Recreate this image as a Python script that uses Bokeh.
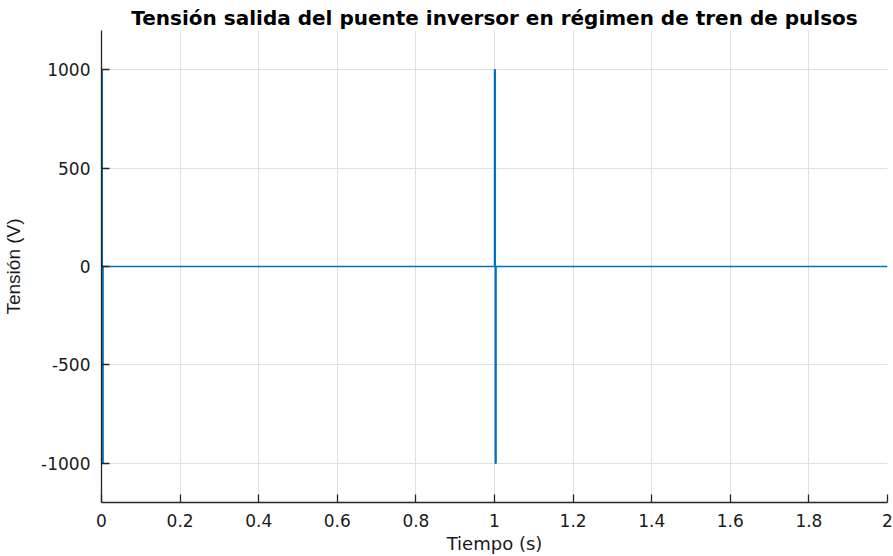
from bokeh.plotting import figure
from bokeh.models import Range1d, FixedTicker, Title
from bokeh.embed import file_html
from bokeh.resources import INLINE

# Signal: pulse train (inverter bridge output voltage)
time_s = [0.0, 0.0, 0.002, 0.002, 0.004, 0.004, 1.0, 1.0, 1.002, 1.002, 1.004, 1.004, 2.0]
voltage_v = [0, 1000, 1000, -1000, -1000, 0, 0, 1000, 1000, -1000, -1000, 0, 0]

x_ticks = [0, 0.2, 0.4, 0.6, 0.8, 1, 1.2, 1.4, 1.6, 1.8, 2]
x_tick_labels = ["0", "0.2", "0.4", "0.6", "0.8", "1", "1.2", "1.4", "1.6", "1.8", "2"]
y_ticks = [-1000, -500, 0, 500, 1000]
y_tick_labels = ["-1000", "-500", "0", "500", "1000"]

title_text = "Tensión salida del puente inversor en régimen de tren de pulsos"
x_label = "Tiempo (s)"
y_label = "Tensión (V)"

p = figure(width=893, height=556, output_backend="svg", toolbar_location=None,
           x_range=Range1d(0, 2), y_range=Range1d(-1200, 1200),
           min_border_left=101, min_border_right=6, min_border_top=30, min_border_bottom=54)
p.background_fill_color = "white"
p.border_fill_color = "white"
p.outline_line_color = None

p.add_layout(Title(text=title_text, align="center", text_font="DejaVu Sans",
                   text_font_size="20px", text_font_style="bold", text_color="black",
                   standoff=2, offset=5), "above")

p.line(time_s, voltage_v, line_color="#0072BD", line_width=1.5)

grid_color = "#dfdfdf"
p.xgrid.grid_line_color = grid_color
p.ygrid.grid_line_color = grid_color

for ax, ticks, labels in ((p.xaxis[0], x_ticks, x_tick_labels), (p.yaxis[0], y_ticks, y_tick_labels)):
    ax.ticker = FixedTicker(ticks=ticks)
    ax.major_label_overrides = {t: l for t, l in zip(ticks, labels)}
    ax.axis_line_color = "#262626"
    ax.axis_line_width = 1.3
    ax.major_tick_line_color = "#262626"
    ax.major_tick_line_width = 1.3
    ax.major_tick_in = 8
    ax.major_tick_out = 0
    ax.minor_tick_line_color = None
    ax.major_label_text_font = "DejaVu Sans"
    ax.major_label_text_font_size = "17px"
    ax.major_label_text_color = "#1a1a1a"
    ax.axis_label_text_font_style = "normal"
    ax.axis_label_text_color = "#1a1a1a"

p.xgrid.ticker = FixedTicker(ticks=x_ticks)
p.ygrid.ticker = FixedTicker(ticks=y_ticks)

p.xaxis.axis_label = x_label
p.xaxis.axis_label_text_font = "DejaVu Sans"
p.xaxis.axis_label_text_font_size = "18px"
p.xaxis.major_label_standoff = 11
p.xaxis.axis_label_standoff = 3

p.yaxis.axis_label = y_label
p.yaxis.axis_label_text_font = "Liberation Sans"
p.yaxis.axis_label_text_font_size = "19px"
p.yaxis.major_label_standoff = 11
p.yaxis.axis_label_standoff = 14

open("out.html", "w").write(file_html(p, INLINE))
